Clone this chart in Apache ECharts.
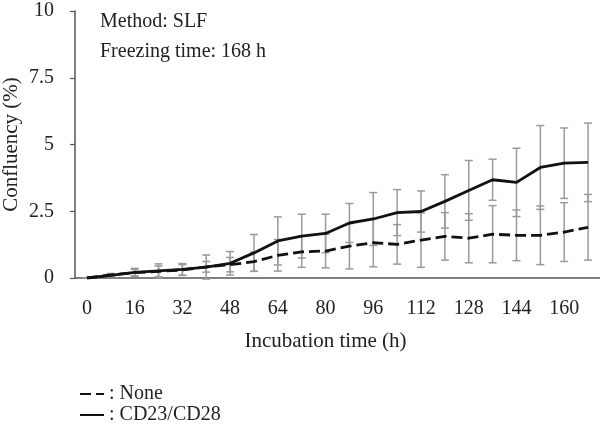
<!DOCTYPE html>
<html>
<head>
<meta charset="utf-8">
<script src="https://cdn.jsdelivr.net/npm/echarts@6/dist/echarts.min.js"></script>
<style>
html,body{margin:0;padding:0;background:#fff;}
#chart{width:600px;height:426px;}
</style>
</head>
<body>
<div id="chart"></div>
<script>
var hours=['0','8','16','24','32','40','48','56','64','72','80','88','96','104','112','120','128','136','144','152','160','168'];
var noneVals=[0,0.12,0.2,0.25,0.3,0.42,0.5,0.61,0.85,0.98,1.01,1.19,1.32,1.26,1.42,1.56,1.49,1.64,1.60,1.60,1.72,1.90];
var noneErr=[0,0.05,0.12,0.2,0.2,0.2,0.27,0.36,0.59,0.58,0.63,0.85,0.9,0.74,1.02,0.89,0.92,1.07,0.95,1.1,1.1,1.23];
var cdVals=[0,0.1,0.21,0.27,0.32,0.41,0.55,0.94,1.39,1.57,1.67,2.06,2.21,2.45,2.49,2.87,3.28,3.68,3.58,4.14,4.30,4.33];
var cdErr=[0,0.05,0.15,0.26,0.22,0.45,0.44,0.69,0.9,0.82,0.72,0.73,0.99,0.86,0.77,1.0,1.12,0.77,1.28,1.57,1.32,1.47];
var yTicks=[0,2.5,5,7.5,10];

var font='"Liberation Serif","DejaVu Serif",serif';
var fs=20;

function errData(vals,err){
	var ret=[];
	for(var i=0;i<vals.length;i++){
		ret.push([i,vals[i]-err[i],vals[i]+err[i]]);
	}
	return ret;
}
function errSeries(name,vals,err){
	return {
		name:name+'_err',
		type:'custom',
		z:1,
		silent:true,
		data:errData(vals,err),
		encode:{x:0,y:[1,2]},
		renderItem:function(params,api){
			var lo=api.coord([api.value(0),api.value(1)]);
			var hi=api.coord([api.value(0),api.value(2)]);
			var w=4;
			var st={stroke:'#9a9a9a',lineWidth:1.5};
			return {
				type:'group',
				children:[
					{type:'line',shape:{x1:lo[0],y1:lo[1],x2:hi[0],y2:hi[1]},style:st},
					{type:'line',shape:{x1:lo[0]-w,y1:lo[1],x2:lo[0]+w,y2:lo[1]},style:st},
					{type:'line',shape:{x1:hi[0]-w,y1:hi[1],x2:hi[0]+w,y2:hi[1]},style:st}
				]
			};
		}
	};
}
function legendFor(name,top){
	return {
		left:74,
		top:top,
		itemWidth:24,
		itemHeight:10,
		data:[name],
		itemStyle:{opacity:0},
		formatter:function(n){return ': '+n;},
		textStyle:{fontFamily:font,fontSize:fs,color:'#222'}
	};
}

var myChart=echarts.init(document.getElementById('chart'));
var option={
	animation:false,
	grid:{left:75,right:0,top:11,bottom:148,outerBoundsMode:'none'},
	legend:[legendFor('None',379),legendFor('CD23/CD28',400)],
	graphic:[
		{type:'text',left:100,top:12,style:{text:'Method: SLF',font:fs+'px '+font,fill:'#222'}},
		{type:'text',left:100,top:42,style:{text:'Freezing time: 168 h',font:fs+'px '+font,fill:'#222'}}
	],
	xAxis:{
		type:'category',
		data:hours,
		boundaryGap:true,
		name:'Incubation time (h)',
		nameLocation:'middle',
		nameGap:53,
		nameMoveOverlap:false,
		nameTextStyle:{fontFamily:font,fontSize:21,color:'#222',padding:[0,24,0,0]},
		axisLine:{lineStyle:{color:'#555',width:1.5}},
		axisTick:{alignWithLabel:true,interval:0,length:5,lineStyle:{color:'#555',width:1.2}},
		axisLabel:{interval:1,margin:21,fontFamily:font,fontSize:fs,color:'#222'},
		splitLine:{show:false}
	},
	yAxis:{
		type:'value',
		min:yTicks[0],
		max:yTicks[yTicks.length-1],
		interval:2.5,
		name:'Confluency (%)',
		nameLocation:'middle',
		nameGap:53,
		nameMoveOverlap:false,
		nameTextStyle:{fontFamily:font,fontSize:21,color:'#222'},
		axisLine:{show:true,lineStyle:{color:'#555',width:1.5}},
		axisTick:{show:true,length:5,lineStyle:{color:'#555',width:1.2}},
		axisLabel:{margin:21,fontFamily:font,fontSize:fs,color:'#222'},
		splitLine:{show:false}
	},
	series:[
		errSeries('None',noneVals,noneErr),
		errSeries('CD23/CD28',cdVals,cdErr),
		{
			name:'None',
			type:'line',
			z:3,
			data:noneVals,
			symbol:'none',
			lineStyle:{color:'#111',width:2.8,type:[11,5]},
			itemStyle:{color:'#111'}
		},
		{
			name:'CD23/CD28',
			type:'line',
			z:3,
			data:cdVals,
			symbol:'none',
			lineStyle:{color:'#111',width:2.8},
			itemStyle:{color:'#111'}
		}
	]
};
myChart.setOption(option);
</script>
</body>
</html>
